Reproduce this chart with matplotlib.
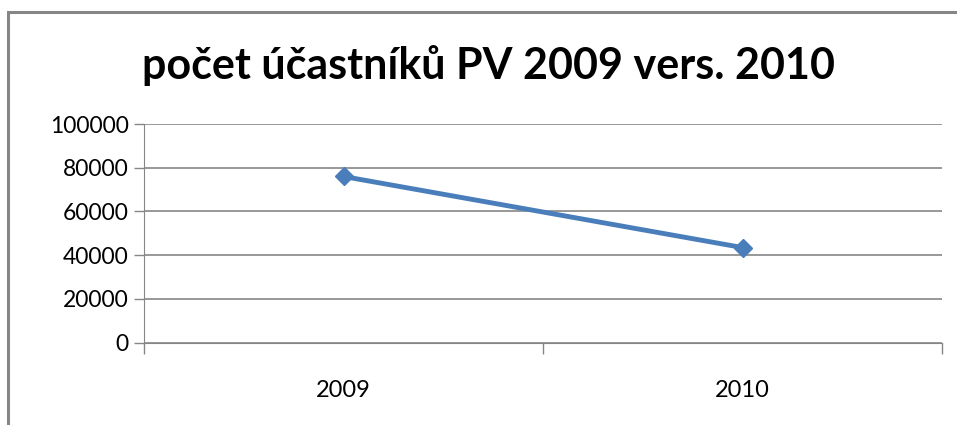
import matplotlib.pyplot as plt
from matplotlib.patches import Rectangle

categories = ["2009", "2010"]
values = [76000, 43500]
y_ticks = [0, 20000, 40000, 60000, 80000, 100000]

plt.rcParams['font.family'] = ['Lato', 'DejaVu Sans']

fig = plt.figure(figsize=(9.57, 4.25), dpi=100)
ax = fig.add_axes([144 / 957, 1 - 342.7 / 425, (942 - 144) / 957, (342.7 - 124) / 425])

# outer chart frame (only left/top visible in the crop)
fig.patches.append(Rectangle((8 / 957, -0.1), 1.2, 1 - 12 / 425 + 0.1,
                             transform=fig.transFigure, fill=False,
                             edgecolor="#868686", linewidth=2.2))

x = list(range(len(categories)))
ax.plot(x, values, color="#4a7ebb", linewidth=3.5, marker="D", markersize=9,
        solid_capstyle="round", zorder=3)

ax.set_xlim(-0.5, len(categories) - 0.5)
ax.set_ylim(0, 100000)
ax.set_yticks(y_ticks)
ax.set_yticklabels([str(v) for v in y_ticks])
ax.set_xticks(x)
ax.set_xticklabels(categories)
ax.tick_params(axis="x", length=0, pad=27, labelsize=17)
ax.tick_params(axis="y", length=7, width=1, color="#868686", labelsize=16.5, pad=4)

# category boundary tick marks
ax.set_xticks([-0.5, 0.5, 1.5], minor=True)
ax.tick_params(axis="x", which="minor", length=8, width=1, color="#868686")

ax.grid(axis="y", color="#868686", linewidth=1.2)
ax.set_axisbelow(True)
for side in ["top", "right"]:
    ax.spines[side].set_visible(False)
ax.spines["left"].set_color("#868686")
ax.spines["bottom"].set_color("#868686")

fig.text(0.5 * (142 + 835) / 957, 1 - 65 / 425, "počet účastníků PV 2009 vers. 2010",
         ha="center", va="center", fontsize=31, fontweight="bold")

fig.savefig("out.png", dpi=100)
